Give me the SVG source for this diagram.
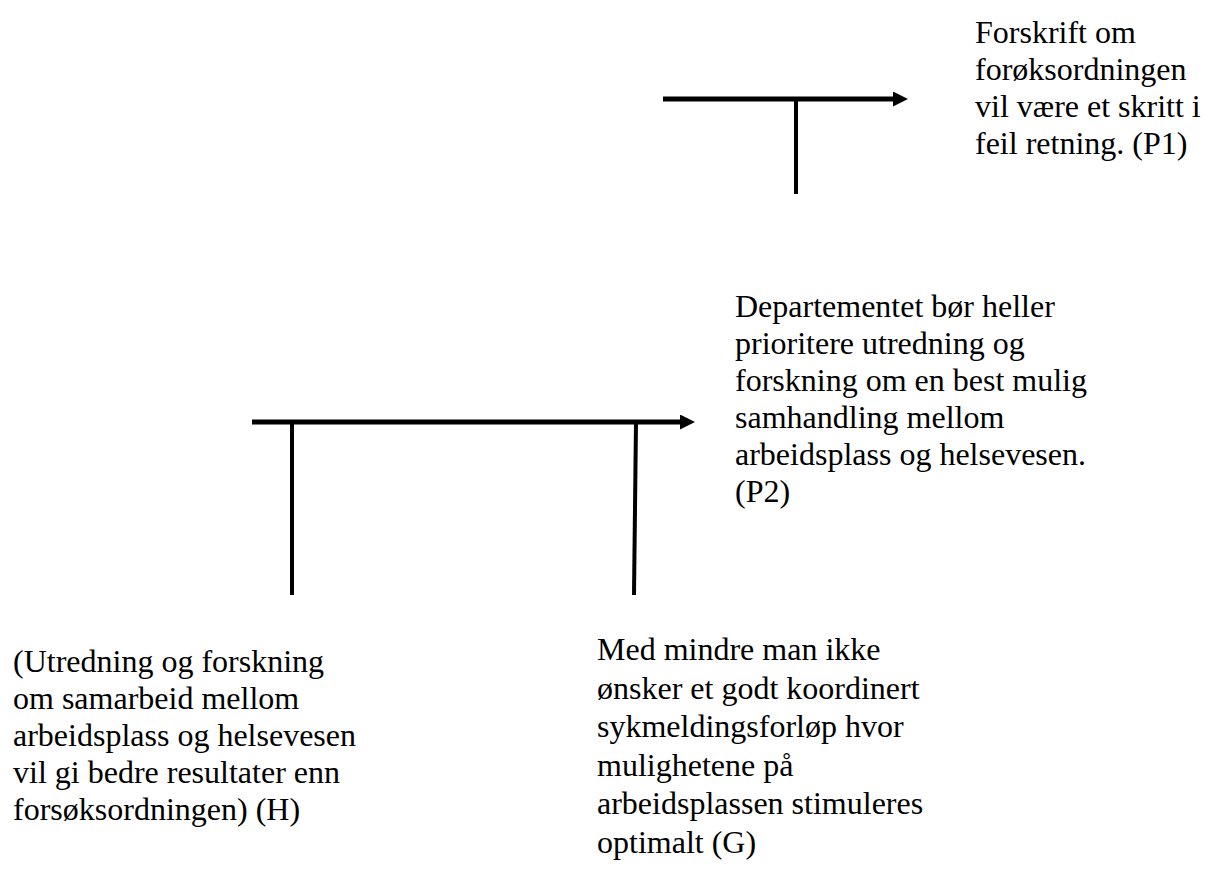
<svg xmlns="http://www.w3.org/2000/svg" width="1212" height="875" viewBox="0 0 1212 875">
  <style>
    .label { font-family: "Liberation Serif", "Times New Roman", serif; font-size: 32px; fill: #000; }
    .bar { stroke: #000; stroke-width: 5; fill: none; }
    .leg { stroke: #000; stroke-width: 4; fill: none; }
  </style>
  <defs>
    <marker id="head" markerUnits="userSpaceOnUse" markerWidth="15" markerHeight="15" refX="0" refY="7.5" orient="auto">
      <path d="M0,0 L15,7.5 L0,15 z" fill="#000"/>
    </marker>
  </defs>
  <rect width="1212" height="875" fill="#fff"/>

  <g id="connectors">
    <!-- P2 supports P1 -->
    <line class="bar" x1="663" y1="99" x2="893" y2="99" marker-end="url(#head)"/>
    <line class="leg" x1="796" y1="99" x2="796" y2="194"/>
    <!-- H and G jointly support P2 -->
    <line class="bar" x1="252" y1="422" x2="680" y2="422" marker-end="url(#head)"/>
    <line class="leg" x1="292" y1="422" x2="292" y2="595"/>
    <line class="leg" x1="636" y1="422" x2="634" y2="595"/>
  </g>

  <g id="p1">
    <text class="label" x="975" y="43">Forskrift om</text>
    <text class="label" x="975" y="80">forøksordningen</text>
    <text class="label" x="975" y="117">vil være et skritt i</text>
    <text class="label" x="975" y="154">feil retning. (P1)</text>
  </g>

  <g id="p2">
    <text class="label" x="735" y="317">Departementet bør heller</text>
    <text class="label" x="735" y="354">prioritere utredning og</text>
    <text class="label" x="735" y="391">forskning om en best mulig</text>
    <text class="label" x="735" y="428">samhandling mellom</text>
    <text class="label" x="735" y="465">arbeidsplass og helsevesen.</text>
    <text class="label" x="735" y="502">(P2)</text>
  </g>

  <g id="h">
    <text class="label" x="13" y="672">(Utredning og forskning</text>
    <text class="label" x="13" y="709">om samarbeid mellom</text>
    <text class="label" x="13" y="746">arbeidsplass og helsevesen</text>
    <text class="label" x="13" y="783">vil gi bedre resultater enn</text>
    <text class="label" x="13" y="820">forsøksordningen) (H)</text>
  </g>

  <g id="g">
    <text class="label" x="597" y="660">Med mindre man ikke</text>
    <text class="label" x="597" y="698.5">ønsker et godt koordinert</text>
    <text class="label" x="597" y="737">sykmeldingsforløp hvor</text>
    <text class="label" x="597" y="775.5">mulighetene på</text>
    <text class="label" x="597" y="814">arbeidsplassen stimuleres</text>
    <text class="label" x="597" y="852.5">optimalt (G)</text>
  </g>
</svg>
